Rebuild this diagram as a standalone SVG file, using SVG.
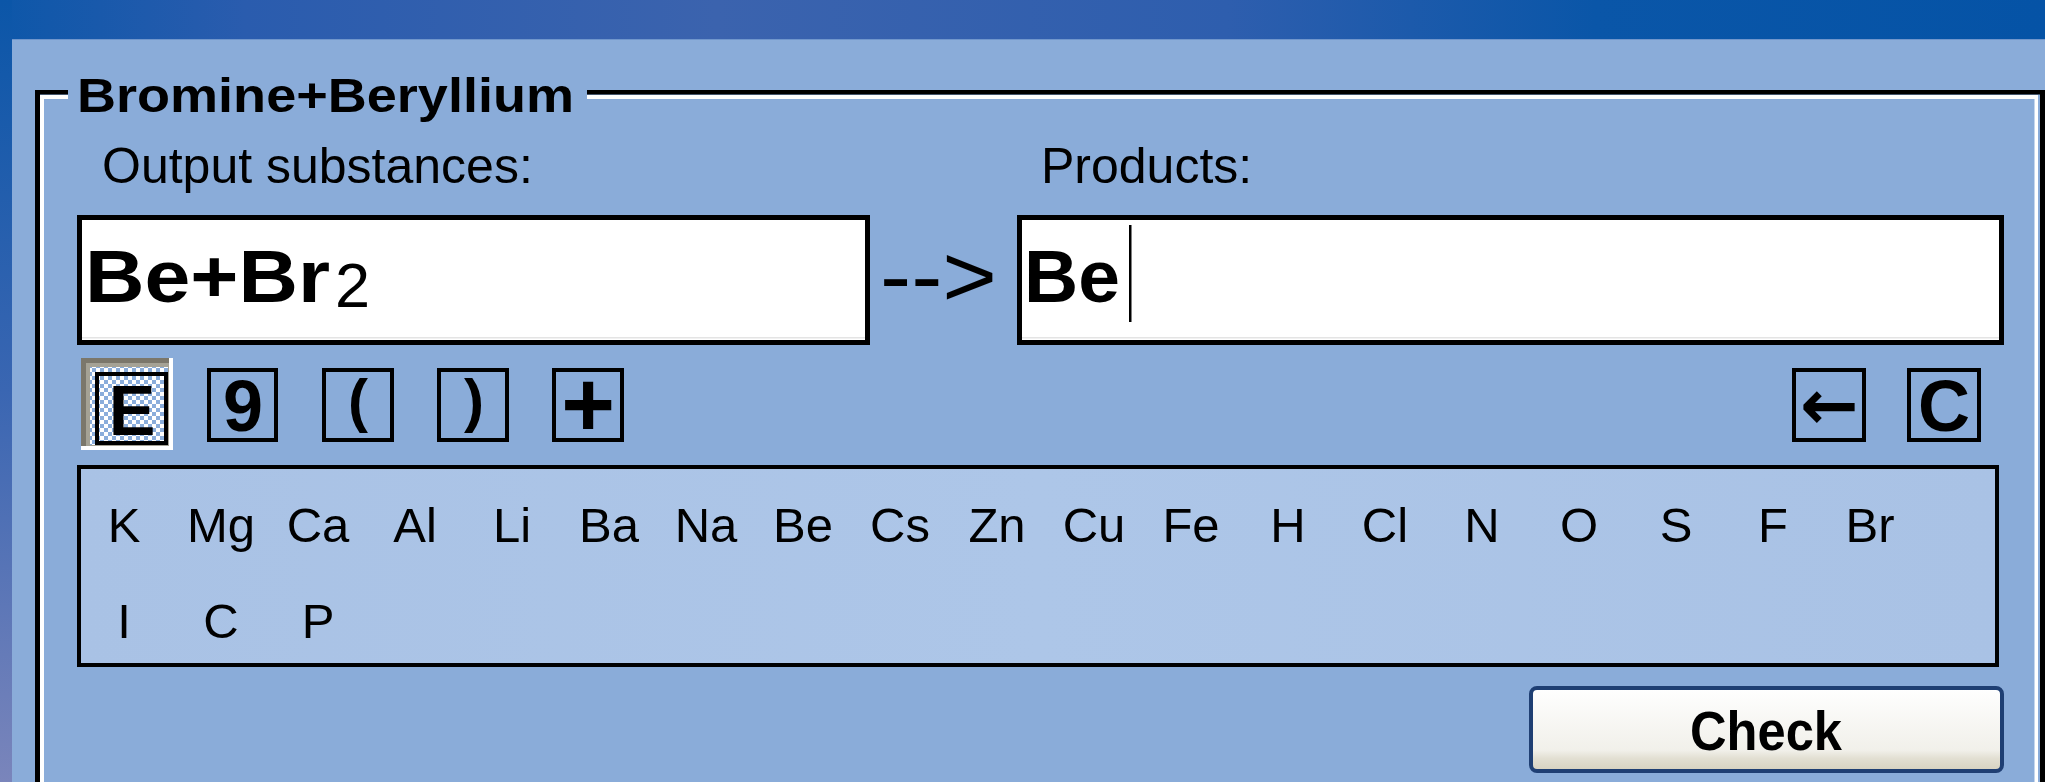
<svg xmlns="http://www.w3.org/2000/svg" width="2045" height="782" viewBox="0 0 2045 782">
<defs>
<linearGradient id="band" x1="0" y1="0" x2="1" y2="0">
<stop offset="0" stop-color="#0d57a9"/>
<stop offset="0.12" stop-color="#2a5cae"/>
<stop offset="0.35" stop-color="#3b63ae"/>
<stop offset="0.6" stop-color="#2e5eae"/>
<stop offset="0.78" stop-color="#0a56a8"/>
<stop offset="1" stop-color="#0553a6"/>
</linearGradient>
<linearGradient id="leftstrip" x1="0" y1="0" x2="0" y2="1">
<stop offset="0" stop-color="#0b56a8"/>
<stop offset="0.5" stop-color="#3a66b2"/>
<stop offset="1" stop-color="#7a85bb"/>
</linearGradient>
<linearGradient id="panelfill" x1="0" y1="0" x2="1" y2="0">
<stop offset="0" stop-color="#a9c2e5"/>
<stop offset="0.5" stop-color="#adc6e8"/>
<stop offset="1" stop-color="#a9c2e5"/>
</linearGradient>
<linearGradient id="btnfill" x1="0" y1="0" x2="0" y2="1">
<stop offset="0" stop-color="#ffffff"/>
<stop offset="0.75" stop-color="#f1f0ea"/>
<stop offset="0.85" stop-color="#e2dfd2"/>
<stop offset="1" stop-color="#d6d1bf"/>
</linearGradient>
<pattern id="checker" x="0" y="0" width="8" height="8" patternUnits="userSpaceOnUse">
<rect width="8" height="8" fill="#8aaddb"/>
<rect width="4" height="4" fill="#ffffff"/>
<rect x="4" y="4" width="4" height="4" fill="#ffffff"/>
</pattern>
<style>
.t{font-family:"Liberation Sans",Arial,sans-serif;fill:#000}
.b{font-weight:bold}
.lbl{font-size:50px}
.el{font-size:49px;text-anchor:middle}
.box{fill:#ffffff;stroke:#000;stroke-width:5}
.kb{fill:none;stroke:#000;stroke-width:4}
.kg{font-family:"Liberation Sans",Arial,sans-serif;font-weight:bold;text-anchor:middle;fill:#000}
</style>
</defs>

<g id="background">
<rect x="0" y="0" width="2045" height="782" fill="#8aacd9"/>
<rect x="0" y="0" width="2045" height="39" fill="url(#band)"/>
<rect x="0" y="0" width="12" height="782" fill="url(#leftstrip)"/>
<rect x="12" y="39" width="2033" height="1" fill="#7096cc"/>
</g>

<g id="groupbox">
<rect x="35" y="90" width="33" height="4.5" fill="#000"/>
<rect x="587" y="90" width="1458" height="4.5" fill="#000"/>
<rect x="35" y="90" width="5" height="692" fill="#000"/>
<rect x="2040" y="90" width="5" height="692" fill="#000"/>
<rect x="40" y="95" width="28" height="4" fill="#fff"/>
<rect x="587" y="95" width="1451" height="4" fill="#fff"/>
<rect x="40" y="95" width="4" height="687" fill="#fff"/>
<rect x="2034.5" y="95" width="3.5" height="687" fill="#fff"/>
<text class="t b" x="77" y="112" font-size="49" textLength="497" lengthAdjust="spacingAndGlyphs">Bromine+Beryllium</text>
</g>

<g id="labels">
<text class="t lbl" x="102" y="183">Output substances:</text>
<text class="t lbl" x="1041" y="183">Products:</text>
</g>

<g id="input-left">
<rect class="box" x="79.5" y="217.5" width="788" height="125"/>
<rect x="82" y="337" width="783" height="1.5" fill="#e4e4e4"/>
<text class="t b" x="85" y="302" font-size="75" textLength="245" lengthAdjust="spacingAndGlyphs">Be+Br</text>
<text class="t" x="335" y="307" font-size="63">2</text>
</g>

<g id="arrow-label">
<text class="t" x="880" y="306" font-size="88" textLength="117" lengthAdjust="spacingAndGlyphs">--&gt;</text>
</g>

<g id="input-right">
<rect class="box" x="1019.5" y="217.5" width="982" height="125"/>
<rect x="1022" y="337" width="977" height="1.5" fill="#e4e4e4"/>
<text class="t b" x="1024" y="302" font-size="75">Be</text>
<rect x="1129" y="225" width="2.5" height="97" fill="#000"/>
</g>

<g id="btn-element">
<rect x="81" y="358" width="92" height="92" fill="#ffffff"/>
<rect x="81" y="358" width="88" height="88" fill="#7b776b"/>
<rect x="86" y="363" width="83" height="83" fill="#a5a295"/>
<rect x="90" y="367" width="78" height="78" fill="url(#checker)"/>
<rect class="kb" x="97" y="374" width="69" height="69"/>
<text class="kg" x="132" y="435" font-size="70">E</text>
</g>

<g id="btn-index">
<rect class="kb" x="209" y="370" width="67" height="70"/>
<text class="kg" x="243" y="431" font-size="72">9</text>
</g>

<g id="btn-lparen">
<rect class="kb" x="324" y="370" width="68" height="70"/>
<text class="kg" x="358" y="421" font-size="60">(</text>
</g>

<g id="btn-rparen">
<rect class="kb" x="439" y="370" width="68" height="70"/>
<text class="kg" x="474" y="421" font-size="60">)</text>
</g>

<g id="btn-plus">
<rect class="kb" x="554" y="370" width="68" height="70"/>
<text class="kg" x="588" y="436" font-size="92">+</text>
</g>

<g id="btn-back">
<rect class="kb" x="1794" y="370" width="70" height="70"/>
<text class="kg" x="1829" y="429" font-size="70" style="font-family:'DejaVu Sans',sans-serif">←</text>
</g>

<g id="btn-clear">
<rect class="kb" x="1909" y="370" width="70" height="70"/>
<text class="kg" x="1944" y="431" font-size="72">C</text>
</g>

<g id="elements-panel">
<rect x="79" y="467" width="1918" height="198" fill="url(#panelfill)" stroke="#000" stroke-width="4"/>
<g class="t el">
<text x="124" y="542">K</text>
<text x="221" y="542">Mg</text>
<text x="318" y="542">Ca</text>
<text x="415" y="542">Al</text>
<text x="512" y="542">Li</text>
<text x="609" y="542">Ba</text>
<text x="706" y="542">Na</text>
<text x="803" y="542">Be</text>
<text x="900" y="542">Cs</text>
<text x="997" y="542">Zn</text>
<text x="1094" y="542">Cu</text>
<text x="1191" y="542">Fe</text>
<text x="1288" y="542">H</text>
<text x="1385" y="542">Cl</text>
<text x="1482" y="542">N</text>
<text x="1579" y="542">O</text>
<text x="1676" y="542">S</text>
<text x="1773" y="542">F</text>
<text x="1870" y="542">Br</text>
<text x="124" y="638">I</text>
<text x="221" y="638">C</text>
<text x="318" y="638">P</text>
</g>
</g>

<g id="btn-check">
<rect x="1531" y="688" width="471" height="83" rx="6" ry="6" fill="url(#btnfill)" stroke="#1f3f73" stroke-width="4"/>
<text class="t b" x="1690" y="750" font-size="56" textLength="152" lengthAdjust="spacingAndGlyphs">Check</text>
</g>

<g id="connectors"></g>
</svg>
